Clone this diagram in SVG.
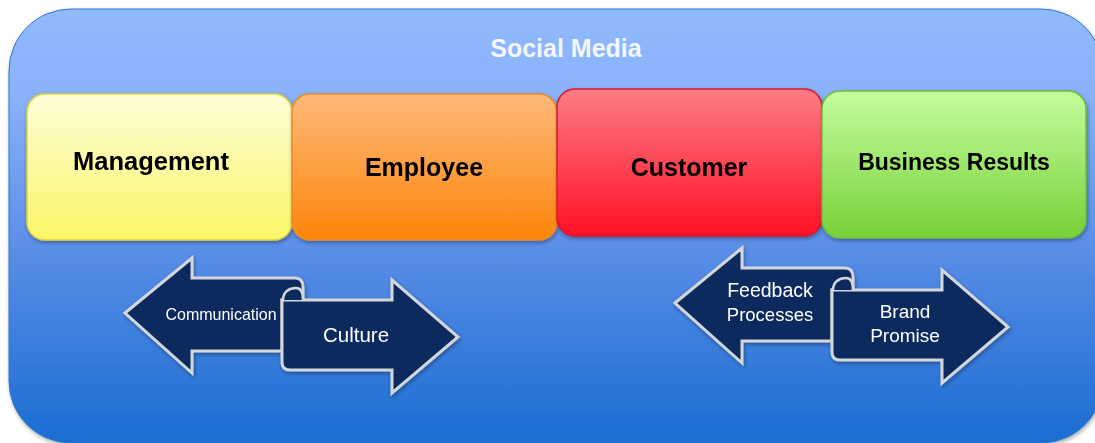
<svg xmlns="http://www.w3.org/2000/svg" width="1095" height="443" viewBox="0 0 1095 443">
<defs>
<linearGradient id="gBg" x1="0" y1="0" x2="0" y2="1">
<stop offset="0" stop-color="#91b9fd"/>
<stop offset="0.2" stop-color="#89b2fa"/>
<stop offset="0.55" stop-color="#5a8ee7"/>
<stop offset="1" stop-color="#1a6dd2"/>
</linearGradient>
<linearGradient id="gY" x1="0" y1="0" x2="0" y2="1"><stop offset="0" stop-color="#fdfdd8"/><stop offset="1" stop-color="#fbf767"/></linearGradient>
<linearGradient id="gO" x1="0" y1="0" x2="0" y2="1"><stop offset="0" stop-color="#fdb97a"/><stop offset="1" stop-color="#fd850a"/></linearGradient>
<linearGradient id="gR" x1="0" y1="0" x2="0" y2="1"><stop offset="0" stop-color="#fe7c86"/><stop offset="1" stop-color="#fe1024"/></linearGradient>
<linearGradient id="gG" x1="0" y1="0" x2="0" y2="1"><stop offset="0" stop-color="#c4fd9e"/><stop offset="1" stop-color="#78d038"/></linearGradient>
<filter id="sh" x="-10%" y="-10%" width="120%" height="125%">
<feGaussianBlur in="SourceAlpha" stdDeviation="2"/>
<feOffset dx="1" dy="2" result="o"/>
<feComponentTransfer><feFuncA type="linear" slope="0.35"/></feComponentTransfer>
<feMerge><feMergeNode/><feMergeNode in="SourceGraphic"/></feMerge>
</filter>
<g id="pair">
<path class="arr" d="M125,313 L192,258 L192,278 L295,278 Q303,278 303,287 L303,300 L282,300 L282,351 L192,351 L192,373 Z"/>
<path class="arr" d="M282,300 L392,300 L392,280 L458,337 L392,393 L392,370 L290,370 Q282,370 282,362 Z"/>
<path class="curl" d="M283,300 C283,292 289,288 296,288 C301,288 303,292 303,300"/>
</g>
</defs>
<style>
.box{stroke-width:1.5}
.lbl{font-family:"Liberation Sans",Arial,sans-serif;font-weight:bold;font-size:24px;fill:#000;text-anchor:middle}
.arr{fill:#0c2b5f;stroke:#d3d6da;stroke-width:3;stroke-linejoin:miter}
.curl{fill:#0c2b5f;stroke:#d3d6da;stroke-width:2.5}
.at{font-family:"Liberation Sans",Arial,sans-serif;fill:#ffffff;text-anchor:middle}
</style>
<g id="social-media">
<rect x="9" y="9" width="1094" height="434" rx="62" fill="url(#gBg)" stroke="#2a78c6" stroke-width="1" filter="url(#sh)"/>
<text x="566" y="57" class="lbl" style="fill:#f4f7ff;font-size:25px">Social Media</text>
</g>
<g id="management" filter="url(#sh)">
<rect class="box" x="27" y="94" width="265" height="146" rx="18" fill="url(#gY)" stroke="#e2d43c"/>
<text x="151" y="170" class="lbl" style="font-size:25.5px">Management</text>
</g>
<g id="employee" filter="url(#sh)">
<rect class="box" x="292" y="94" width="265" height="146" rx="18" fill="url(#gO)" stroke="#ea8a2c"/>
<text x="424" y="176" class="lbl" style="font-size:25px">Employee</text>
</g>
<g id="customer" filter="url(#sh)">
<rect class="box" x="557" y="89" width="265" height="147" rx="18" fill="url(#gR)" stroke="#d61a2c"/>
<text x="689" y="176" class="lbl" style="font-size:25px">Customer</text>
</g>
<g id="business-results" filter="url(#sh)">
<rect class="box" x="822" y="91" width="264" height="147" rx="18" fill="url(#gG)" stroke="#6cbe3a"/>
<text x="954" y="170" class="lbl" style="font-size:23px">Business Results</text>
</g>
<g id="connectors">
<g id="communication-culture" filter="url(#sh)">
<use href="#pair"/>
<text x="221" y="320" class="at" style="font-size:16px">Communication</text>
<text x="356" y="342" class="at" style="font-size:20.5px">Culture</text>
</g>
<g id="feedback-brand" filter="url(#sh)">
<use href="#pair" transform="translate(550,-10)"/>
<text x="770" y="297" class="at" style="font-size:19.5px">Feedback</text>
<text x="770" y="321" class="at" style="font-size:18.5px">Processes</text>
<text x="905" y="318" class="at" style="font-size:19px">Brand</text>
<text x="905" y="342" class="at" style="font-size:19px">Promise</text>
</g>
</g>
</svg>
